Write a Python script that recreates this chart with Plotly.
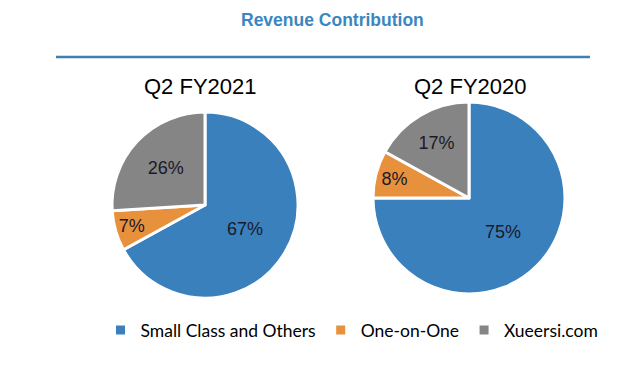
import plotly.graph_objects as go

categories = ["Small Class and Others", "One-on-One", "Xueersi.com"]
fy2021_values = [67, 7, 26]
fy2020_values = [75, 8, 17]
pie_titles = ["Q2 FY2021", "Q2 FY2020"]
chart_title = "Revenue Contribution"
colors = ["#3A80BC", "#E8913C", "#858585"]

W, H = 641, 369
OFF = 8  # page body margin offset

def px(x):
    return (x - OFF) / W

def py(y):
    return 1 - (y - OFF) / H

def dom(cx, cy, r):
    return dict(x=[px(cx - r), px(cx + r)], y=[py(cy + r), py(cy - r)])

fig = go.Figure()
common = dict(
    labels=categories,
    sort=False,
    direction="clockwise",
    rotation=0,
    marker=dict(colors=colors, line=dict(color="white", width=3)),
    texttemplate="%{value}%",
    textposition="inside",
    insidetextorientation="horizontal",
    textfont=dict(family="Liberation Sans, Arial", size=18, color="#1a1a2a"),
    hoverinfo="label+percent",
)
fig.add_trace(go.Pie(values=fy2021_values, domain=dom(205, 205, 93), showlegend=True, **common))
fig.add_trace(go.Pie(values=fy2020_values, domain=dom(469, 198, 96), showlegend=False, **common))

fig.add_annotation(text="<b>" + chart_title + "</b>", x=px(332), y=py(20), xref="paper", yref="paper",
                   showarrow=False, font=dict(family="Liberation Sans, Arial", size=17.5, color="#3A87C0"),
                   xanchor="center", yanchor="middle")
fig.add_annotation(text=pie_titles[0], x=px(200), y=py(86), xref="paper", yref="paper",
                   showarrow=False, font=dict(family="Liberation Sans, Arial", size=22, color="black"),
                   xanchor="center", yanchor="middle")
fig.add_annotation(text=pie_titles[1], x=px(471), y=py(86), xref="paper", yref="paper",
                   showarrow=False, font=dict(family="Liberation Sans, Arial", size=22, color="black"),
                   xanchor="center", yanchor="middle")
fig.add_shape(type="line", xref="paper", yref="paper", x0=px(56), x1=px(590), y0=py(57), y1=py(57),
              line=dict(color="#3D80B4", width=2.5))

fig.update_layout(
    width=W, height=H,
    margin=dict(l=0, r=0, t=0, b=0),
    paper_bgcolor="white", plot_bgcolor="white",
    legend=dict(orientation="h", x=px(352), y=py(330), xanchor="center", yanchor="middle",
                font=dict(family="Lato, Open Sans", size=17.5, color="black"),
                itemwidth=30, traceorder="normal"),
)

fig.write_html("out.html")
